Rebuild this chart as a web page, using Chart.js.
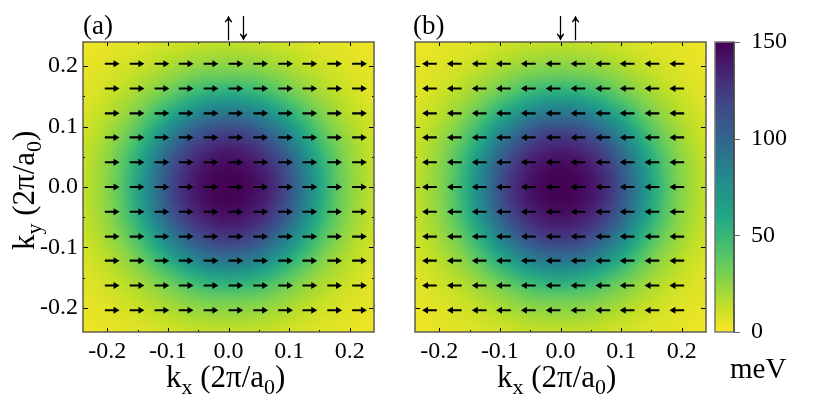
<!DOCTYPE html>
<html><head><meta charset="utf-8">
<script src="https://cdn.jsdelivr.net/npm/chart.js@4"></script>
<style>
html,body{margin:0;padding:0;background:#fff;width:830px;height:416px;overflow:hidden}
canvas{position:absolute;top:0}
.t{position:absolute;font-family:"Liberation Serif",serif;color:#000;white-space:nowrap;line-height:1}
.t sub{font-size:22px;vertical-align:-7px;line-height:0}
.big{font-size:31px}
.spin{transform:scale(1.08,1.47)}
</style></head><body>
<canvas id="pa" width="384" height="416" style="left:0"></canvas>
<canvas id="pb" width="340" height="416" style="left:384px"></canvas>
<canvas id="cb" width="124" height="416" style="left:706px"></canvas>
<div class="t" style="left:83px;top:12px;font-size:27px">(a)</div>
<div class="t" style="left:413px;top:12px;font-size:27px">(b)</div>
<div class="t spin" style="left:222px;top:12px;font-size:28px">↑↓</div>
<div class="t spin" style="left:554px;top:12px;font-size:28px">↓↑</div>
<div class="t big" style="left:166px;top:361px">k<sub>x</sub> (2π/a<sub>0</sub>)</div>
<div class="t big" style="left:497px;top:361px">k<sub>x</sub> (2π/a<sub>0</sub>)</div>
<div class="t big" style="left:8px;top:250px;transform-origin:0 0;transform:rotate(-90deg)">k<sub>y</sub> (2π/a<sub>0</sub>)</div>
<div class="t" style="left:730px;top:354px;font-size:29px">meV</div>
<script>
const kAxis = [-0.24,-0.22,-0.20,-0.18,-0.16,-0.14,-0.12,-0.10,-0.08,-0.06,-0.04,-0.02,0,0.02,0.04,0.06,0.08,0.10,0.12,0.14,0.16,0.18,0.20,0.22,0.24];
const heatValues = [
[3,4,5,6,6,7,9,10,11,13,13,14,14,14,13,13,11,10,9,7,6,6,5,4,3],
[4,5,6,7,8,10,12,14,16,18,19,20,20,20,19,18,16,14,12,10,8,7,6,5,4],
[5,6,7,9,11,13,16,19,22,24,26,27,27,27,26,24,22,19,16,13,11,9,7,6,5],
[6,7,9,11,14,18,21,25,29,33,36,37,38,37,36,33,29,25,21,18,14,11,9,7,6],
[6,8,11,14,18,22,27,33,39,45,50,53,54,53,50,45,39,33,27,22,18,14,11,8,6],
[7,10,13,18,22,28,36,44,53,62,68,73,74,73,68,62,53,44,36,28,22,18,13,10,7],
[9,12,16,21,27,36,46,58,70,80,88,92,94,92,88,80,70,58,46,36,27,21,16,12,9],
[10,14,19,25,33,44,58,73,86,97,106,111,113,111,106,97,86,73,58,44,33,25,19,14,10],
[11,16,22,29,39,53,70,86,100,113,121,126,128,126,121,113,100,86,70,53,39,29,22,16,11],
[13,18,24,33,45,62,80,97,113,124,132,137,139,137,132,124,113,97,80,62,45,33,24,18,13],
[13,19,26,36,50,68,88,106,121,132,140,144,146,144,140,132,121,106,88,68,50,36,26,19,13],
[14,20,27,37,53,73,92,111,126,137,144,148,149,148,144,137,126,111,92,73,53,37,27,20,14],
[14,20,27,38,54,74,94,113,128,139,146,149,150,149,146,139,128,113,94,74,54,38,27,20,14],
[14,20,27,37,53,73,92,111,126,137,144,148,149,148,144,137,126,111,92,73,53,37,27,20,14],
[13,19,26,36,50,68,88,106,121,132,140,144,146,144,140,132,121,106,88,68,50,36,26,19,13],
[13,18,24,33,45,62,80,97,113,124,132,137,139,137,132,124,113,97,80,62,45,33,24,18,13],
[11,16,22,29,39,53,70,86,100,113,121,126,128,126,121,113,100,86,70,53,39,29,22,16,11],
[10,14,19,25,33,44,58,73,86,97,106,111,113,111,106,97,86,73,58,44,33,25,19,14,10],
[9,12,16,21,27,36,46,58,70,80,88,92,94,92,88,80,70,58,46,36,27,21,16,12,9],
[7,10,13,18,22,28,36,44,53,62,68,73,74,73,68,62,53,44,36,28,22,18,13,10,7],
[6,8,11,14,18,22,27,33,39,45,50,53,54,53,50,45,39,33,27,22,18,14,11,8,6],
[6,7,9,11,14,18,21,25,29,33,36,37,38,37,36,33,29,25,21,18,14,11,9,7,6],
[5,6,7,9,11,13,16,19,22,24,26,27,27,27,26,24,22,19,16,13,11,9,7,6,5],
[4,5,6,7,8,10,12,14,16,18,19,20,20,20,19,18,16,14,12,10,8,7,6,5,4],
[3,4,5,6,6,7,9,10,11,13,13,14,14,14,13,13,11,10,9,7,6,6,5,4,3]
];
const arrowK = [-0.204,-0.163,-0.122,-0.082,-0.041,0,0.041,0.082,0.122,0.163,0.204];
const arrowLengthA = 0.024;
const arrowLengthB = -0.024;
const majorTicks = [-0.2,-0.1,0,0.1,0.2];
const minorTicks = [-0.15,-0.05,0.05,0.15];
const colorbarLevels = [150,140,130,120,110,100,90,80,70,60,50,40,30,20,10,0];
const colorbarTicks = [0,50,100,150];
const viridisStops = [[68,1,84],[72,36,117],[65,68,135],[53,95,141],[42,120,142],[33,145,140],[34,168,132],[68,191,112],[122,209,81],[189,223,38],[253,231,37]];
const serif = '"Liberation Serif", serif';

function colorOf(v){
  const t = Math.max(0,Math.min(1,1-v/150))*(viridisStops.length-1);
  const i = Math.min(Math.floor(t),viridisStops.length-2), f = t-i;
  return viridisStops[i].map((c,n)=>Math.round(c+(viridisStops[i+1][n]-c)*f));
}
function makeImage(rows){
  const h=rows.length,w=rows[0].length;
  const c=document.createElement('canvas');c.width=w;c.height=h;
  const g=c.getContext('2d'),d=g.createImageData(w,h);
  rows.forEach((r,j)=>r.forEach((v,i)=>{
    const col=colorOf(v),o=(j*w+i)*4;
    d.data[o]=col[0];d.data[o+1]=col[1];d.data[o+2]=col[2];d.data[o+3]=255;
  }));
  g.putImageData(d,0,0);return c;
}
const heatPlugin = {
  id:'heat',
  beforeDatasetsDraw(chart){
    const {ctx,scales:{x,y}}=chart;
    const x0=x.getPixelForValue(kAxis[0]),x1=x.getPixelForValue(kAxis[kAxis.length-1]);
    const y0=y.getPixelForValue(kAxis[kAxis.length-1]),y1=y.getPixelForValue(kAxis[0]);
    const img=makeImage(heatValues);
    ctx.save();ctx.imageSmoothingEnabled=true;ctx.imageSmoothingQuality='high';
    ctx.drawImage(img,0.5,0.5,img.width-1,img.height-1,x0,y0,x1-x0,y1-y0);
    ctx.restore();
  }
};
const framePlugin = {
  id:'frame',
  afterDatasetsDraw(chart){
    const {ctx,chartArea:a,scales:{x,y}}=chart;
    ctx.save();
    ctx.strokeStyle='#000';ctx.lineWidth=1;
    const tick=(v,len,horizontal)=>{
      ctx.beginPath();
      if(horizontal){const p=Math.round(x.getPixelForValue(v))+.5;
        ctx.moveTo(p,a.top);ctx.lineTo(p,a.top+len);ctx.moveTo(p,a.bottom);ctx.lineTo(p,a.bottom-len);}
      else{const p=Math.round(y.getPixelForValue(v))+.5;
        ctx.moveTo(a.left,p);ctx.lineTo(a.left+len,p);ctx.moveTo(a.right,p);ctx.lineTo(a.right-len,p);}
      ctx.stroke();
    };
    majorTicks.forEach(v=>{tick(v,4,true);tick(v,5,false);});
    minorTicks.forEach(v=>{tick(v,2,true);tick(v,2,false);});
    ctx.strokeStyle='#5c5c50';ctx.lineWidth=1.5;
    ctx.strokeRect(a.left,a.top,a.right-a.left,a.bottom-a.top);
    ctx.restore();
  }
};
function shaftData(len){
  const out=[];
  arrowK.forEach(ky=>arrowK.forEach(kx=>{
    out.push({x:kx,y:ky},{x:kx+len*0.8,y:ky},{x:null,y:null});
  }));
  return out;
}
function headData(len){
  const out=[];
  arrowK.forEach(ky=>arrowK.forEach(kx=>out.push({x:kx+len*0.74,y:ky})));
  return out;
}
function panel(id,len,showLabels,yWidth,rightPad){
  new Chart(document.getElementById(id),{
    type:'scatter',
    data:{datasets:[
      {data:shaftData(len),showLine:true,spanGaps:false,borderColor:'#000',borderWidth:2.2,pointRadius:0,pointHoverRadius:0},
      {data:headData(len),pointStyle:'triangle',rotation:len>0?90:-90,pointRadius:4,pointHoverRadius:4,backgroundColor:'#000',borderWidth:0}
    ]},
    options:{
      responsive:false,animation:false,devicePixelRatio:1,
      layout:{padding:{top:42,right:rightPad,left:0,bottom:0}},
      plugins:{legend:{display:false},tooltip:{enabled:false}},
      events:[],
      scales:{
        x:{type:'linear',position:'bottom',min:-0.24,max:0.24,
          grid:{display:false,drawTicks:false},border:{display:false},
          afterBuildTicks:s=>{s.ticks=majorTicks.map(v=>({value:v}));},
          afterFit:s=>{s.height=84;},
          ticks:{autoSkip:false,maxRotation:0,padding:5,color:'#000',font:{family:serif,size:24},callback:v=>v.toFixed(1)}},
        y:{type:'linear',position:'left',min:-0.24,max:0.24,
          grid:{display:false,drawTicks:false},border:{display:false},
          afterBuildTicks:s=>{s.ticks=majorTicks.map(v=>({value:v}));},
          afterFit:s=>{s.width=yWidth;},
          ticks:{display:showLabels,autoSkip:false,padding:5,color:'#000',font:{family:serif,size:24},callback:v=>v.toFixed(1)}}
      }
    },
    plugins:[heatPlugin,framePlugin]
  });
}
panel('pa',arrowLengthA,true,83,10);
panel('pb',arrowLengthB,false,31,18);

const colorbarPlugin = {
  id:'colorbar',
  beforeDatasetsDraw(chart){
    const {ctx,chartArea:a,scales:{y}}=chart;
    const img=makeImage(colorbarLevels.map(v=>[v]));
    const y0=y.getPixelForValue(colorbarLevels[0]),y1=y.getPixelForValue(colorbarLevels[colorbarLevels.length-1]);
    ctx.save();ctx.imageSmoothingEnabled=true;
    ctx.drawImage(img,0,0.5,1,img.height-1,a.left,y0,a.right-a.left,y1-y0);
    ctx.strokeStyle='#777';ctx.lineWidth=1.5;
    ctx.strokeRect(a.left,a.top,a.right-a.left,a.bottom-a.top);
    ctx.strokeStyle='#222';ctx.lineWidth=1;
    ctx.beginPath();ctx.moveTo(a.right,a.top);ctx.lineTo(a.right,a.bottom);ctx.stroke();
    ctx.strokeStyle='#666';
    colorbarTicks.forEach(v=>{const p=Math.round(y.getPixelForValue(v))+.5;ctx.beginPath();ctx.moveTo(a.right,p);ctx.lineTo(a.right+6,p);ctx.stroke();});
    ctx.restore();
  }
};
new Chart(document.getElementById('cb'),{
  type:'scatter',
  data:{datasets:[{data:colorbarTicks.map(v=>({x:0,y:v})),pointRadius:0}]},
  options:{
    responsive:false,animation:false,devicePixelRatio:1,
    layout:{padding:{top:42,left:9,right:0,bottom:84}},
    plugins:{legend:{display:false},tooltip:{enabled:false}},
    events:[],
    scales:{
      x:{type:'linear',display:false,min:-1,max:1},
      y:{type:'linear',position:'right',min:0,max:150,
        grid:{display:false,drawTicks:false},border:{display:false},
        afterBuildTicks:s=>{s.ticks=colorbarTicks.map(v=>({value:v}));},
        afterFit:s=>{s.width=96;},
        ticks:{autoSkip:false,padding:17,color:'#000',font:{family:serif,size:24},callback:v=>String(v)}}
    }
  },
  plugins:[colorbarPlugin]
});
</script>
</body></html>
